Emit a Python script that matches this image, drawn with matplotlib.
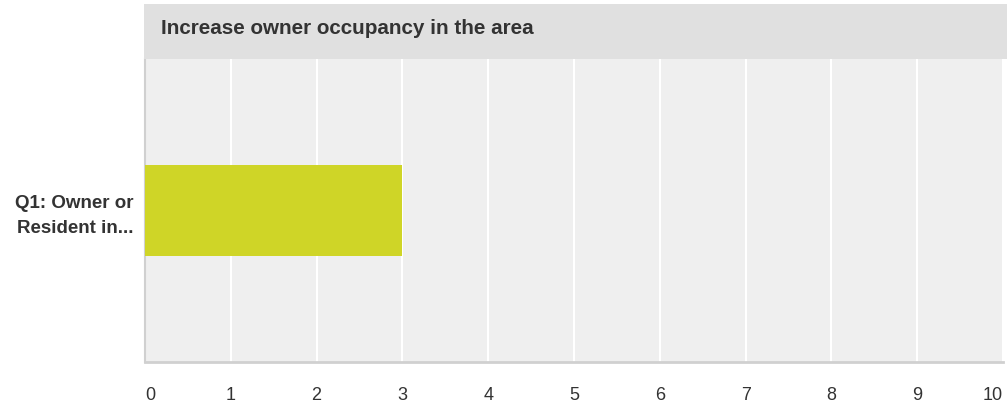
import matplotlib
matplotlib.use("Agg")
import matplotlib.pyplot as plt
from matplotlib.patches import Rectangle
from matplotlib.transforms import ScaledTranslation

title = "Increase owner occupancy in the area"
categories = ["Q1: Owner or\nResident in..."]
values = [3]
xticks = list(range(0, 11))

plt.rcParams['font.family'] = ['Liberation Sans', 'DejaVu Sans']

W, H = 1007, 408
fig = plt.figure(figsize=(W / 100, H / 100), dpi=100)
fig.patch.set_facecolor('white')

L, R, T, B = 145, 1003, 59, 362
ax = fig.add_axes([L / W, 1 - B / H, (R - L) / W, (B - T) / H])
ax.set_facecolor('#efefef')

ax.barh([0], values, height=0.6, color='#cfd527', zorder=3)
ax.set_xlim(0, 10)
ax.set_ylim(-1, 1)
ax.set_xticks(xticks)
ax.set_xticklabels([str(t) for t in xticks], fontsize=13, color='#333333')
xtl = ax.get_xticklabels()
xtl[0].set_horizontalalignment('left')
xtl[-1].set_horizontalalignment('right')
ax.set_yticks([0])
ax.set_yticklabels(categories, fontsize=13.5, fontweight='bold', color='#333333',
                   linespacing=1.55)
for lab in ax.get_yticklabels():
    lab.set_transform(lab.get_transform() + ScaledTranslation(0, 3 / 100, fig.dpi_scale_trans))
ax.tick_params(axis='both', length=0)
ax.tick_params(axis='x', pad=18)
ax.tick_params(axis='y', pad=8)
ax.grid(axis='x', color='white', linewidth=1.5, zorder=1)
ax.set_axisbelow(True)
for s in ['top', 'right']:
    ax.spines[s].set_visible(False)
ax.spines['bottom'].set_color('#d0d0d0')
ax.spines['bottom'].set_linewidth(2)
ax.spines['left'].set_color('#d0d0d0')
ax.spines['left'].set_linewidth(1.5)

# title band
fig.patches.append(Rectangle((144 / W, 1 - 59 / H), 1 - 144 / W, 55 / H,
                             transform=fig.transFigure, facecolor='#e0e0e0',
                             edgecolor='none', zorder=0))
fig.text(161 / W, 1 - 29 / H, title, fontsize=14.85, fontweight='bold',
         color='#333333', ha='left', va='center')

fig.savefig("out.png", dpi=100)
